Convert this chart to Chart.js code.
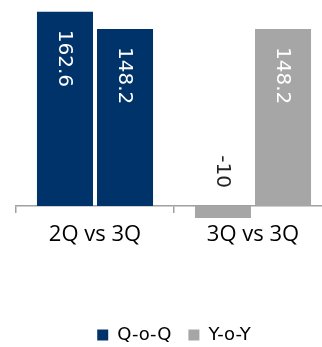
<!DOCTYPE html>
<html>
<head>
<meta charset="utf-8">
<script src="https://cdn.jsdelivr.net/npm/chart.js@4"></script>
<style>
  html, body { margin: 0; padding: 0; background: #fff; overflow: hidden; }
  canvas { display: block; }
</style>
</head>
<body>
<canvas id="chart" width="363" height="354"></canvas>
<script>
// categories and values
const categories = ['2Q vs 3Q', '3Q vs 3Q'];
const firstBar = [162.6, -10];
const secondBar = [148.2, 148.2];
const legendNames = ['Q-o-Q', 'Y-o-Y'];
const groupColors = ['#00336A', '#A6A6A6'];

// rotated value labels, read top to bottom
const barLabels = {
    id: 'barLabels',
    afterDatasetsDraw(chart) {
        const ctx = chart.ctx;
        const zero = chart.scales.y.getPixelForValue(0);
        ctx.save();
        ctx.font = '20px "DejaVu Sans"';
        ctx.textBaseline = 'middle';
        chart.data.datasets.forEach((ds, i) => {
            chart.getDatasetMeta(i).data.forEach((bar, j) => {
                const v = ds.data[j];
                const txt = String(v);
                const w = ctx.measureText(txt).width;
                ctx.save();
                if (v >= 0) {
                    ctx.translate(bar.x, bar.y + 18);
                    ctx.fillStyle = '#fff';
                } else {
                    ctx.translate(bar.x, zero - 18 - w);
                    ctx.fillStyle = '#222';
                }
                ctx.rotate(Math.PI / 2);
                ctx.textAlign = 'left';
                ctx.fillText(txt, 0, 1);
                ctx.restore();
            });
        });
        ctx.restore();
    }
};

new Chart(document.getElementById('chart'), {
    type: 'bar',
    data: {
        labels: categories,
        datasets: [
            { data: firstBar, backgroundColor: groupColors, clip: false },
            { data: secondBar, backgroundColor: groupColors, clip: false }
        ]
    },
    options: {
        responsive: false,
        animation: false,
        categoryPercentage: 0.76,
        barPercentage: 0.933,
        layout: { padding: { top: 3, left: 16, right: 31, bottom: 0 } },
        scales: {
            x: {
                grid: {
                    drawOnChartArea: false,
                    tickLength: 7,
                    color: '#A0A0A0',
                    lineWidth: 1.5
                },
                border: { color: '#A0A0A0', width: 1.5 },
                ticks: {
                    color: '#000',
                    font: { family: '"Open Sans"', size: 22 },
                    padding: 9,
                    maxRotation: 0,
                    autoSkip: false
                },
                afterFit(scale) { scale.height = 103; }
            },
            y: { display: false, min: 0, max: 170 }
        },
        plugins: {
            tooltip: { enabled: false },
            legend: {
                position: 'bottom',
                labels: {
                    boxWidth: 11,
                    boxHeight: 11,
                    padding: 17,
                    color: '#000',
                    font: { family: '"DejaVu Sans"', size: 18 },
                    generateLabels: () => legendNames.map((name, i) => ({
                        text: name,
                        fillStyle: groupColors[i],
                        strokeStyle: groupColors[i],
                        lineWidth: 0,
                        hidden: false,
                        datasetIndex: i
                    }))
                }
            }
        }
    },
    plugins: [barLabels]
});
</script>
</body>
</html>
